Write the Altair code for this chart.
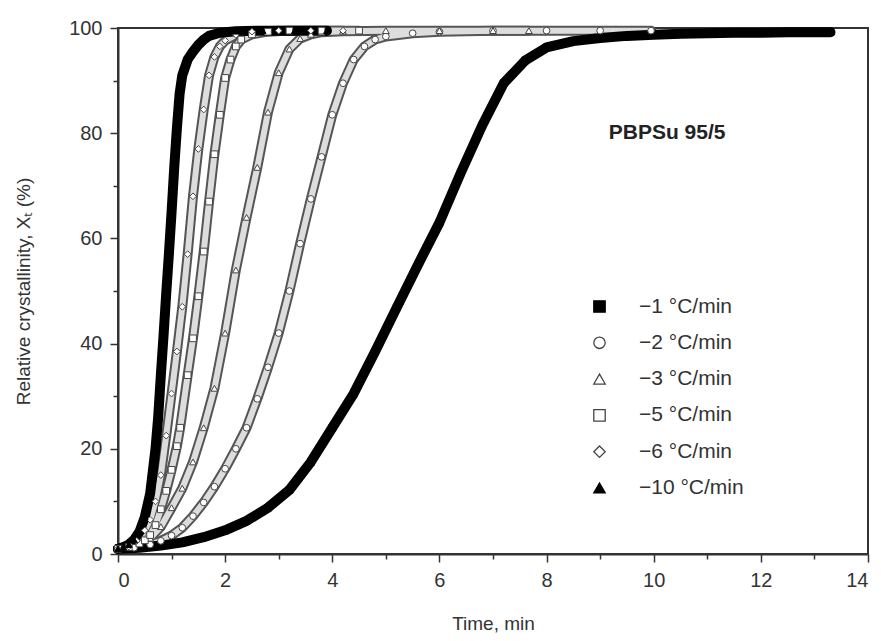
import altair as alt
import pandas as pd

# ---- data ----
series_names = ["−1 °C/min", "−2 °C/min", "−3 °C/min", "−5 °C/min", "−6 °C/min", "−10 °C/min"]
shapes = ["square", "circle", "triangle-up", "square", "diamond", "triangle-up"]
fills = ["black", "white", "white", "white", "white", "black"]
strokes = ["black", "#444444", "#444444", "#444444", "#444444", "black"]
filled_flags = [True, False, False, False, False, True]

t_r1 = [0, 0.4, 0.8, 1.2, 1.6, 2.0, 2.4, 2.8, 3.2, 3.6, 4.0, 4.4, 4.8, 5.2, 5.6, 6.0, 6.4, 6.8,
        7.2, 7.6, 8.0, 8.5, 9.0, 9.5, 10.0, 10.5, 11.0, 11.5, 12.0, 12.5, 13.0, 13.3]
x_r1 = [1.0, 1.2, 1.6, 2.2, 3.2, 4.5, 6.3, 8.8, 12.2, 17.5, 24.0, 30.5, 38.5, 46.8, 55.0, 63.0, 72.5, 81.5,
        89.5, 93.8, 96.3, 97.5, 98.1, 98.5, 98.7, 98.9, 99.0, 99.1, 99.1, 99.2, 99.2, 99.2]

t_r2 = [0, 0.3, 0.6, 0.8, 1.0, 1.2, 1.4, 1.6, 1.8, 2.0, 2.2, 2.4, 2.6, 2.8, 3.0, 3.2, 3.4, 3.6, 3.8,
        4.0, 4.2, 4.4, 4.6, 4.8, 5.0, 5.5, 6.0, 7.0, 8.0, 9.0, 9.95]
x_r2 = [1.0, 1.2, 1.8, 2.5, 3.5, 5.0, 7.2, 9.8, 12.8, 16.2, 20.0, 24.0, 29.5, 35.5, 42.0, 50.0, 59.0, 67.5, 75.5,
        83.5, 89.5, 94.0, 96.5, 97.8, 98.4, 99.0, 99.3, 99.5, 99.5, 99.5, 99.5]

t_r3 = [0, 0.2, 0.4, 0.6, 0.8, 1.0, 1.2, 1.4, 1.6, 1.8, 2.0, 2.2, 2.4, 2.6, 2.8, 3.0, 3.2, 3.4, 3.6,
        3.8, 4.2, 5.0, 6.0, 7.0, 7.67]
x_r3 = [1.0, 1.3, 2.0, 3.0, 5.2, 8.8, 12.5, 17.5, 24.0, 31.5, 42.0, 54.0, 64.0, 73.5, 84.0, 91.5, 96.0, 98.0, 98.8,
        99.2, 99.4, 99.5, 99.5, 99.5, 99.5]

t_r5 = [0, 0.2, 0.4, 0.5, 0.6, 0.7, 0.8, 0.9, 1.0, 1.1, 1.16, 1.3, 1.4, 1.5, 1.6, 1.7, 1.8, 1.9, 2.0,
        2.1, 2.2, 2.3, 2.5, 2.8, 3.2, 3.8, 4.5]
x_r5 = [1.0, 1.3, 2.0, 2.6, 3.6, 5.5, 8.5, 12.0, 16.0, 20.5, 24.0, 34.0, 41.0, 49.0, 57.5, 67.0, 76.0, 83.5, 90.5,
        94.0, 96.5, 97.8, 98.8, 99.3, 99.5, 99.5, 99.5]

t_r6 = [0, 0.2, 0.35, 0.5, 0.6, 0.7, 0.8, 0.9, 1.0, 1.1, 1.2, 1.3, 1.4, 1.5, 1.6, 1.7, 1.8, 1.9, 2.0,
        2.2, 2.5, 3.0, 3.6, 4.2]
x_r6 = [1.0, 1.4, 2.5, 4.5, 6.5, 10.0, 15.0, 22.5, 30.5, 38.5, 47.0, 57.0, 68.0, 77.0, 84.5, 91.0, 94.5, 96.5, 97.6,
        98.7, 99.3, 99.5, 99.5, 99.5]

t_r10 = [0, 0.1, 0.2, 0.3, 0.4, 0.5, 0.6, 0.7, 0.75, 0.8, 0.85, 0.9, 0.95, 1.0, 1.05, 1.1, 1.15, 1.2,
         1.3, 1.4, 1.5, 1.6, 1.7, 1.9, 2.2, 2.7, 3.3, 3.9]
x_r10 = [1.0, 1.3, 1.8, 2.7, 4.2, 7.0, 11.5, 20.0, 26.0, 34.0, 41.5, 49.5, 57.0, 65.0, 73.5, 81.0, 87.5, 91.0,
         94.0, 95.5, 96.8, 97.8, 98.5, 99.1, 99.4, 99.5, 99.5, 99.5]

t_lists = [t_r1, t_r2, t_r3, t_r5, t_r6, t_r10]
x_lists = [x_r1, x_r2, x_r3, x_r5, x_r6, x_r10]

annot_text = ["PBPSu 95/5"]
annot_t = [10.25]
annot_x = [80]

rows = []
for name, flag, ts, xs in zip(series_names, filled_flags, t_lists, x_lists):
    for t, x in zip(ts, xs):
        rows.append({"series": name, "filled": flag, "t": t, "X": x})
df = pd.DataFrame(rows)

FONT = "Liberation Sans, Arial, Helvetica, sans-serif"
INK = "#333333"

x_axis = alt.Axis(
    values=list(range(0, 15)),
    labelExpr="datum.value % 2 === 0 ? datum.label : ''",
    tickSize={"condition": {"test": "datum.value % 2 === 0", "value": 8}, "value": 5},
    grid=False, labelPadding=8, titlePadding=24,
)
y_axis = alt.Axis(
    values=list(range(0, 101, 10)),
    labelExpr="datum.value % 20 === 0 ? datum.label : ''",
    tickSize={"condition": {"test": "datum.value % 20 === 0", "value": 8}, "value": 5},
    grid=False, labelPadding=8, titlePadding=35,
)

xenc = alt.X("t:Q", scale=alt.Scale(domain=[0, 14], nice=False), axis=x_axis, title="Time, min")
yenc = alt.Y("X:Q", scale=alt.Scale(domain=[0, 100], nice=False), axis=y_axis,
             title="Relative crystallinity, Xₜ (%)")

base = alt.Chart(df).encode(x=xenc, y=yenc)

open_outer = base.transform_filter("!datum.filled").mark_line(
    color="#555555", strokeWidth=10, strokeJoin="round", strokeCap="round"
).encode(detail="series:N")
open_inner = base.transform_filter("!datum.filled").mark_line(
    color="#dddddd", strokeWidth=6, strokeJoin="round", strokeCap="round"
).encode(detail="series:N")
filled_band = base.transform_filter("datum.filled").mark_line(
    color="black", strokeWidth=10, strokeJoin="round", strokeCap="round"
).encode(detail="series:N")

legend = alt.Legend(
    title=None, orient="none", legendX=471, legendY=268,
    symbolSize=130, symbolStrokeWidth=1.3, symbolOpacity=1,
    labelFontSize=21, labelFont=FONT, labelColor=INK, labelOffset=29,
    rowPadding=14.3,
)

points = base.mark_point(filled=True, size=45, strokeWidth=1, opacity=1).encode(
    shape=alt.Shape("series:N", scale=alt.Scale(domain=series_names, range=shapes), legend=legend),
    fill=alt.Fill("series:N", scale=alt.Scale(domain=series_names, range=fills), legend=legend),
    stroke=alt.Stroke("series:N", scale=alt.Scale(domain=series_names, range=strokes), legend=legend),
)

annot = alt.Chart(pd.DataFrame({"t": annot_t, "X": annot_x, "text": annot_text})).mark_text(
    font=FONT, fontSize=21, fontWeight="bold", color="#222222"
).encode(x=alt.X("t:Q"), y=alt.Y("X:Q"), text="text:N")

chart = alt.layer(open_outer, open_inner, filled_band, points, annot).properties(
    width=750, height=526,
    autosize=alt.AutoSizeParams(type="none"),
    padding={"left": 110, "top": 20, "right": 5, "bottom": 79},
).configure_axis(
    domainColor=INK, domainWidth=2, tickColor=INK, tickWidth=1.5,
    labelFont=FONT, labelFontSize=20, labelColor=INK,
    titleFont=FONT, titleFontSize=19, titleColor=INK, titleFontWeight="normal",
).configure_view(stroke=INK, strokeWidth=2)

chart.save("out.html", embed_options={"renderer": "svg", "actions": False})
